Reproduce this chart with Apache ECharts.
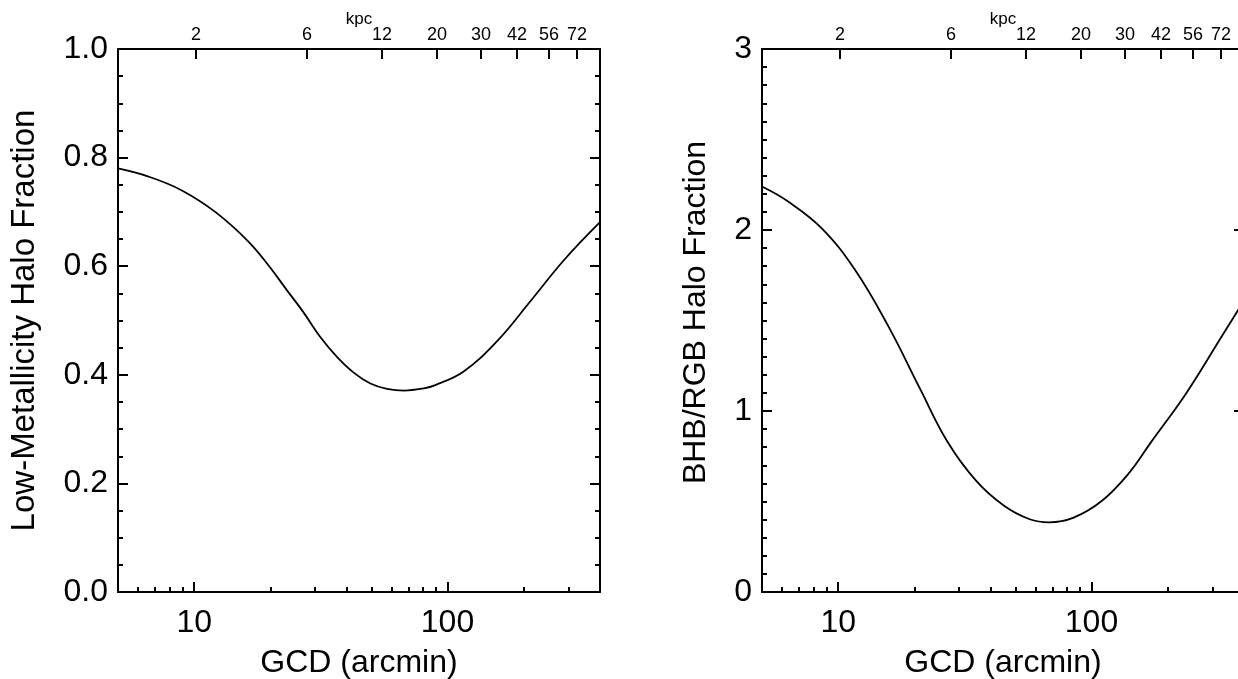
<!DOCTYPE html>
<html>
<head>
<meta charset="utf-8">
<script src="https://cdn.jsdelivr.net/npm/echarts@6/dist/echarts.min.js"></script>
<style>
html,body{margin:0;padding:0;background:#fff;}
#c{width:1238px;height:679px;}
</style>
</head>
<body>
<div id="c"></div>
<script>
// ---- data ----
const gcdLeft  = [5, 6.6, 8.9, 12.1, 16.4, 19.9, 23.2, 27.0, 31.4, 36.6, 42.6, 49.6, 57.7, 67.5, 80.5, 89.5, 115.8, 157, 212, 288, 400];
const fracLeft = [0.780, 0.765, 0.740, 0.700, 0.645, 0.598, 0.556, 0.515, 0.470, 0.433, 0.404, 0.384, 0.374, 0.371, 0.375, 0.381, 0.406, 0.462, 0.535, 0.611, 0.681];

const gcdRight  = [5, 6.36, 8.61, 11.66, 15.8, 21.0, 27, 35, 45, 57, 68, 85, 110, 140, 171, 237, 326, 400];
const fracRight = [2.24, 2.156, 2.009, 1.779, 1.466, 1.125, 0.83, 0.615, 0.478, 0.402, 0.385, 0.411, 0.504, 0.654, 0.824, 1.10, 1.41, 1.61];

// bottom axis ticks (arcmin)
const gcdMajorTicks = [10, 100];
const gcdMinorTicks = [6, 7, 8, 9, 20, 30, 40, 50, 60, 70, 80, 90, 200, 300];
// top axis: kpc labels and their arcmin positions
const kpcLabels = ['2', '6', '12', '20', '30', '42', '56', '72'];
const kpcTickGcd = [10.16, 27.9, 55.1, 90.9, 135.6, 188.1, 251.6, 324.6];

const xTitle = 'GCD (arcmin)';
const topTitle = 'kpc';
const yTitleLeft = 'Low-Metallicity Halo Fraction';
const yTitleRight = 'BHB/RGB Halo Fraction';

// ---- chart ----
const FONT = '"Liberation Sans", Arial, Helvetica, sans-serif';
const BLACK = '#000';
const GX = [118, 762];
const GTOP = 49, GW = 482, GH = 543;
const XMIN = 5, XMAX = 400;
const BIG = 32, SMALL = 18;

const grids = [], xAxes = [], yAxes = [], series = [];

function panel(i, yMax, yInt, ySplit, yName, yGap, yFont, yPad, yFmt, xs, ys) {
  grids.push({left: GX[i], top: GTOP, width: GW, height: GH, containLabel: false, outerBoundsMode: 'none'});
  const base = {
    gridIndex: i, type: 'log', logBase: 10, min: XMIN, max: XMAX,
    splitLine: {show: false}, minorSplitLine: {show: false}, nameMoveOverlap: false
  };
  // bottom major
  xAxes.push(Object.assign({}, base, {
    position: 'bottom',
    axisLine: {show: true, onZero: false, lineStyle: {color: BLACK, width: 2}},
    axisTick: {show: true, inside: true, length: 10, lineStyle: {color: BLACK, width: 2}, customValues: gcdMajorTicks},
    axisLabel: {show: true, customValues: gcdMajorTicks, color: BLACK, fontFamily: FONT, fontSize: BIG, margin: 15,
      formatter: v => String(Math.round(v))},
    name: xTitle, nameLocation: 'middle', nameGap: 55,
    nameTextStyle: {color: BLACK, fontFamily: FONT, fontSize: BIG}
  }));
  // bottom minor
  xAxes.push(Object.assign({}, base, {
    position: 'bottom',
    axisLine: {show: false, onZero: false},
    axisTick: {show: true, inside: true, length: 5, lineStyle: {color: BLACK, width: 2}, customValues: gcdMinorTicks},
    axisLabel: {show: false}
  }));
  // top kpc
  xAxes.push(Object.assign({}, base, {
    position: 'top',
    axisLine: {show: true, onZero: false, lineStyle: {color: BLACK, width: 2}},
    axisTick: {show: true, inside: true, length: 10, lineStyle: {color: BLACK, width: 2}, customValues: kpcTickGcd},
    axisLabel: {show: true, customValues: kpcTickGcd, color: BLACK, fontFamily: FONT, fontSize: SMALL, margin: 5,
      formatter: v => {
        let best = 0, d = Infinity;
        kpcTickGcd.forEach((p, k) => { const dd = Math.abs(Math.log(p) - Math.log(v)); if (dd < d) { d = dd; best = k; } });
        return kpcLabels[best];
      }},
    name: topTitle, nameLocation: 'middle', nameGap: 21,
    nameTextStyle: {color: BLACK, fontFamily: FONT, fontSize: 17}
  }));
  const ybase = {
    gridIndex: i, type: 'value', min: 0, max: yMax, interval: yInt,
    splitLine: {show: false}, minorSplitLine: {show: false}, nameMoveOverlap: false,
    axisLine: {show: true, onZero: false, lineStyle: {color: BLACK, width: 2}},
    axisTick: {show: true, inside: true, length: 10, lineStyle: {color: BLACK, width: 2}},
    minorTick: {show: true, splitNumber: ySplit, length: 5, lineStyle: {color: BLACK, width: 2}}
  };
  yAxes.push(Object.assign({}, ybase, {
    position: 'left',
    axisLabel: {show: true, color: BLACK, fontFamily: FONT, fontSize: BIG, margin: 10, formatter: yFmt},
    name: yName, nameLocation: 'middle', nameGap: yGap, nameRotate: 90,
    nameTextStyle: {color: BLACK, fontFamily: FONT, fontSize: yFont, padding: yPad}
  }));
  yAxes.push(Object.assign({}, ybase, {
    position: 'right',
    axisLabel: {show: false}
  }));
  const data = xs.map((x, k) => [x, ys[k]]);
  series.push({
    type: 'line', xAxisIndex: i * 3, yAxisIndex: i * 2, data: data,
    smooth: 0.4, showSymbol: false, symbol: 'none', clip: true,
    lineStyle: {color: BLACK, width: 1.8}
  });
}

panel(0, 1, 0.2, 4, yTitleLeft, 77, 33, [0, 0, 0, 0], v => v.toFixed(1), gcdLeft, fracLeft);
panel(1, 3, 1, 10, yTitleRight, 50, 32, [0, 0, 0, 16], v => String(Math.round(v)), gcdRight, fracRight);

const chart = echarts.init(document.getElementById('c'), null, {renderer: 'canvas'});
chart.setOption({
  animation: false,
  backgroundColor: '#fff',
  grid: grids, xAxis: xAxes, yAxis: yAxes, series: series
});
</script>
</body>
</html>
